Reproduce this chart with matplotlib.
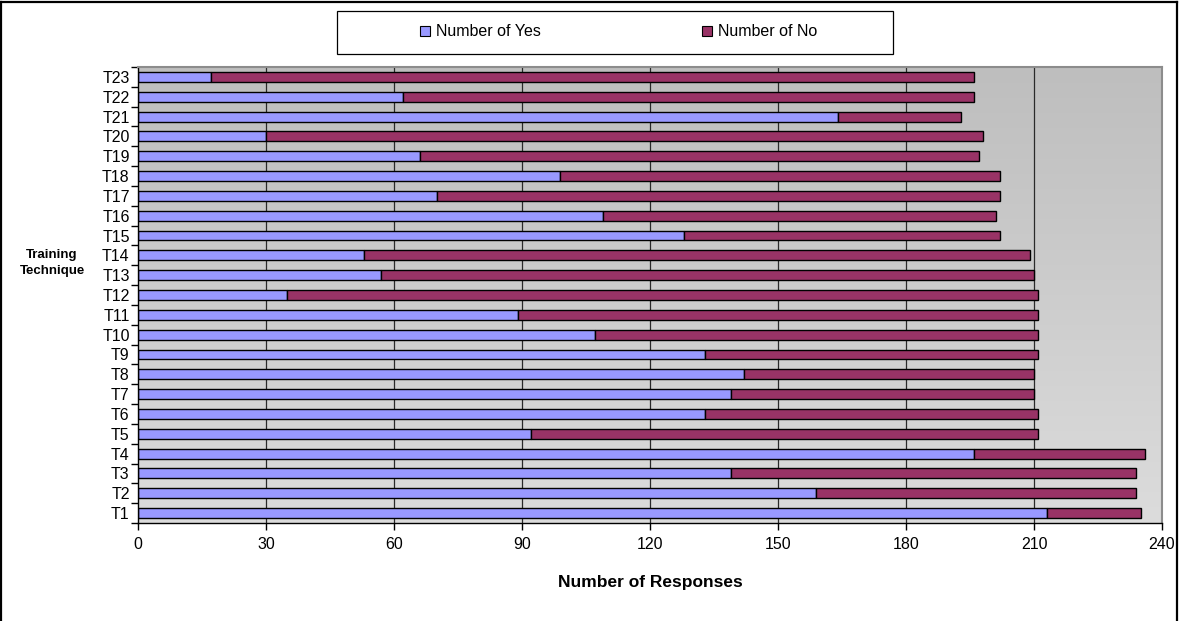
import numpy as np
import matplotlib
matplotlib.use("Agg")
import matplotlib.pyplot as plt
from matplotlib.patches import Rectangle
from matplotlib.lines import Line2D

plt.rcParams["font.family"] = ["Liberation Sans", "DejaVu Sans"]

# ----- data (bottom to top) -----
techniques = [f"T{i}" for i in range(1, 24)]
num_yes = [213, 159, 139, 196, 92, 133, 139, 142, 133, 107, 89, 35,
           57, 53, 128, 109, 70, 99, 66, 30, 164, 62, 17]
num_no = [22, 75, 95, 40, 119, 78, 71, 68, 78, 104, 122, 176,
          153, 156, 74, 92, 132, 103, 131, 168, 29, 134, 179]
x_ticks = [0, 30, 60, 90, 120, 150, 180, 210, 240]

YES_COLOR = "#9999FF"
NO_COLOR = "#993366"

W, H = 1183, 621
fig = plt.figure(figsize=(W / 100, H / 100), dpi=100)
ax = fig.add_axes([138 / W, 1 - 523 / H, 1024 / W, 456 / H])

y = np.arange(len(techniques))
ax.set_xlim(0, 240)
ax.set_ylim(-0.5, len(techniques) - 0.5)

# gray gradient plot area, darker at top
grad = np.linspace(0, 1, 256).reshape(-1, 1)
ax.imshow(grad, cmap=matplotlib.colors.LinearSegmentedColormap.from_list(
    "bg", ["#dcdcdc", "#bebebe"]), extent=[0, 240, -0.5, len(techniques) - 0.5],
    aspect="auto", origin="lower", zorder=0)

for xv in x_ticks[1:-1]:
    ax.axvline(xv, color="#2a2a2a", lw=0.9, zorder=1)

ax.barh(y, num_yes, height=0.5, color=YES_COLOR, edgecolor="black", lw=1.0,
        label="Number of Yes", zorder=2)
ax.barh(y, num_no, left=num_yes, height=0.5, color=NO_COLOR, edgecolor="black",
        lw=1.0, label="Number of No", zorder=2)

ax.set_xticks(x_ticks)
ax.set_xticklabels([str(v) for v in x_ticks], fontsize=11.5)
ax.tick_params(axis="x", direction="out", length=5, width=1, pad=5)
ax.set_yticks(y)
ax.set_yticklabels(techniques, fontsize=11.5)
ax.set_yticks(np.arange(-0.5, len(techniques)), minor=True)
ax.tick_params(axis="y", which="major", length=0, pad=6)
ax.tick_params(axis="y", which="minor", direction="out", length=5, width=1)

for s in ["top", "right"]:
    ax.spines[s].set_color("#8c8c8c")
    ax.spines[s].set_linewidth(1.5)
for s in ["left", "bottom"]:
    ax.spines[s].set_color("black")
    ax.spines[s].set_linewidth(1.0)

fig.text(650 / W, 1 - 583 / H, "Number of Responses", fontsize=12.5,
         fontweight="bold", ha="center", va="center")
fig.text(52 / W, 1 - 263 / H, "Training\nTechnique", fontsize=9.5,
         fontweight="bold", ha="center", va="center", linespacing=1.35)

# legend box drawn separately so the padding matches
fig.patches.append(Rectangle((337 / W, 1 - 54 / H), 556 / W, 43 / H,
                             transform=fig.transFigure, facecolor="white",
                             edgecolor="black", lw=0.9, zorder=3))
leg = fig.legend(loc="center", bbox_to_anchor=(619 / W, 1 - 32 / H), ncol=2,
                 frameon=False, fontsize=11.5, handlelength=0.6,
                 handleheight=0.6, handletextpad=0.4, columnspacing=10.1)
leg.set_zorder(4)
for h in leg.legend_handles:
    h.set_linewidth(0.8)

# outer chart border
for xs, ys in [([1 / W, 1 / W], [0, 1 - 2 / H]),
               ([1 / W, 1177 / W], [1 - 2 / H, 1 - 2 / H]),
               ([1177 / W, 1177 / W], [0, 1 - 2 / H])]:
    fig.add_artist(Line2D(xs, ys, color="black", lw=1.6, transform=fig.transFigure))

fig.savefig("out.png", dpi=100)
